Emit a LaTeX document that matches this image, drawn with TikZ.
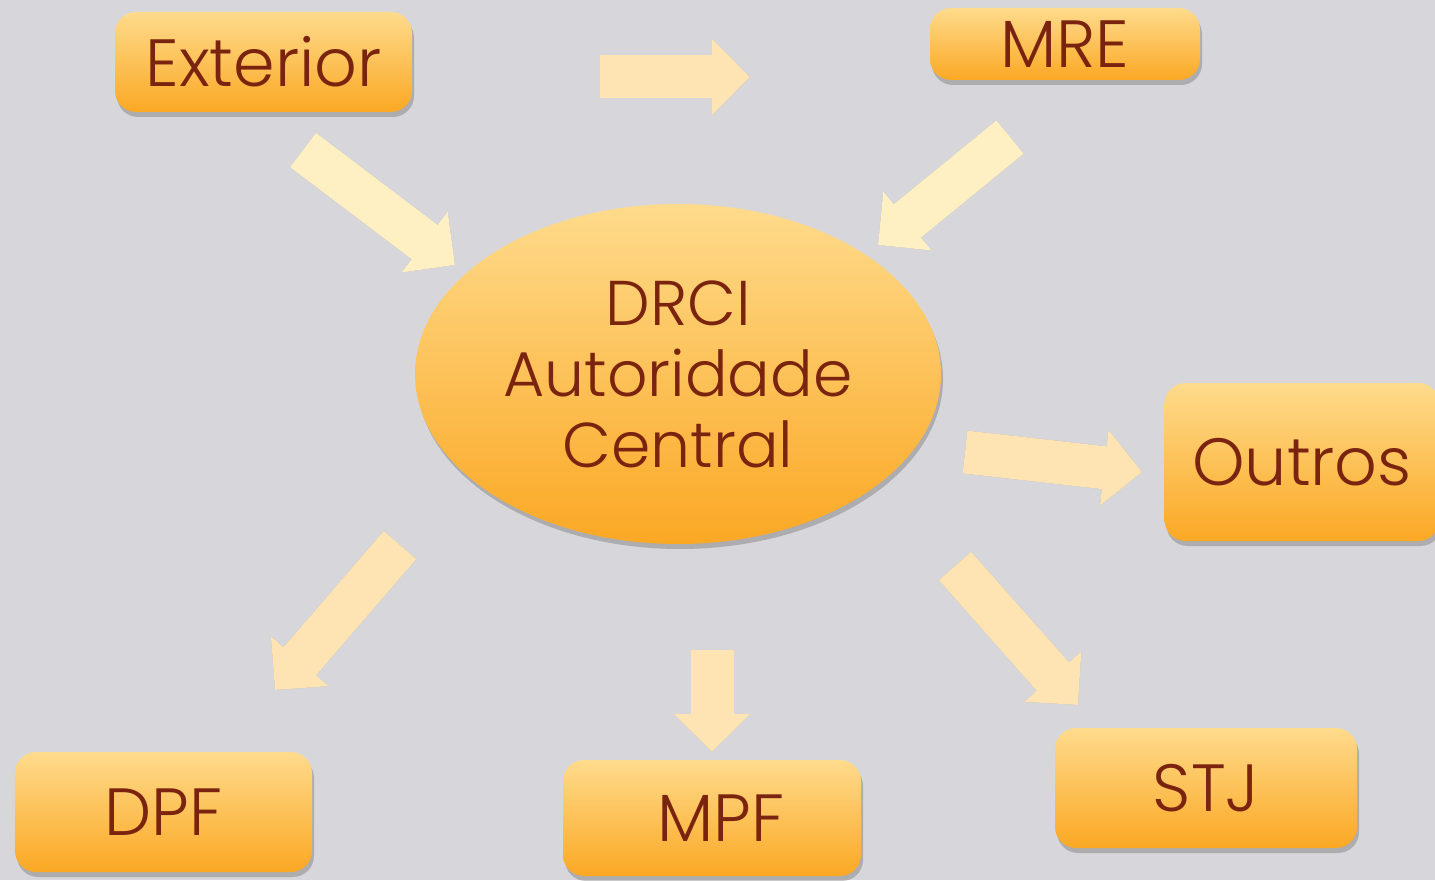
\documentclass[tikz,border=0pt]{standalone}
\usepackage{fontspec}
\IfFontExistsTF{Poppins Light}{\setmainfont{Poppins Light}}{\setmainfont{Poppins}}
\usepackage{xcolor}
\usetikzlibrary{arrows.meta, positioning, shadows, shapes.geometric}
\definecolor{boxtop}{RGB}{254,219,140}
\definecolor{boxbot}{RGB}{251,168,36}
\definecolor{txt}{RGB}{122,36,16}
\definecolor{bg}{RGB}{215,215,219}
\definecolor{arrlight}{RGB}{254,240,194}
\definecolor{arrdark}{RGB}{254,228,178}
\tikzset{
    entity/.style={
        rectangle,
        rounded corners=6pt,
        top color=boxtop,
        bottom color=boxbot,
        text=txt,
        font=\fontsize{19}{22}\selectfont,
        drop shadow={shadow xshift=0.02cm, shadow yshift=-0.05cm, opacity=0.3, fill=black!70}
    },
    central/.style={
        ellipse,
        inner sep=0pt,
        minimum width=5.26cm,
        minimum height=3.4cm,
        top color=boxtop,
        bottom color=boxbot,
        text=txt,
        align=center,
        font=\fontsize{18}{20.2}\selectfont,
        drop shadow={shadow xshift=0.02cm, shadow yshift=-0.05cm, opacity=0.3, fill=black!70}
    },
    flow/.style={
        draw=#1,
        line width=0.43cm,
        -{Triangle[width=0.74cm, length=0.38cm, fill=#1]}
    },
    flowshadow/.style={
        draw=bg!82!black,
        line width=0.43cm,
        -{Triangle[width=0.74cm, length=0.38cm, fill=bg!82!black]},
        shift={(0.02cm,-0.05cm)}
    }
}

\begin{document}
\begin{tikzpicture}

\fill[bg] (0,0) rectangle (14.35,8.8);
\clip (0,0) rectangle (14.35,8.8);

% central authority
\node[central] (drci) at (6.78,5.06) {DRCI\\Autoridade\\Central};

% boxes
\node[entity, minimum width=2.97cm, minimum height=1cm] (ext) at (2.635,8.18) {Exterior};
\node[entity, minimum width=2.7cm, minimum height=0.72cm] (mre) at (10.65,8.36) {MRE};
\node[entity, minimum width=2.75cm, minimum height=1.58cm] (outros) at (13.02,4.18) {Outros};
\node[entity, minimum width=2.97cm, minimum height=1.2cm] (dpf) at (1.635,0.68) {DPF};
\node[entity, minimum width=2.98cm, minimum height=1.16cm] (mpf) at (7.12,0.62) {\hspace{0.18cm}MPF};
\node[entity, minimum width=3.02cm, minimum height=1.2cm] (stj) at (12.06,0.92) {STJ};

% arrow ends
\coordinate (a1) at (3.03,7.30);
\coordinate (b1) at (4.55,6.15);
\coordinate (a2) at (6.00,8.03);
\coordinate (b2) at (7.50,8.03);
\coordinate (a3) at (10.10,7.43);
\coordinate (b3) at (8.78,6.35);
\coordinate (a4) at (9.65,4.28);
\coordinate (b4) at (11.42,4.08);
\coordinate (a5) at (4.00,3.35);
\coordinate (b5) at (2.75,1.90);
\coordinate (a6) at (7.12,2.30);
\coordinate (b6) at (7.12,1.28);
\coordinate (a7) at (9.55,3.14);
\coordinate (b7) at (10.78,1.75);

\foreach \s/\e in {a1/b1, a2/b2, a3/b3, a4/b4, a5/b5, a6/b6, a7/b7}
    \draw[flowshadow] (\s) -- (\e);

\draw[flow=arrlight] (a1) -- (b1);
\draw[flow=arrdark] (a2) -- (b2);
\draw[flow=arrlight] (a3) -- (b3);
\draw[flow=arrdark] (a4) -- (b4);
\draw[flow=arrdark] (a5) -- (b5);
\draw[flow=arrdark] (a6) -- (b6);
\draw[flow=arrdark] (a7) -- (b7);

\end{tikzpicture}
\end{document}
